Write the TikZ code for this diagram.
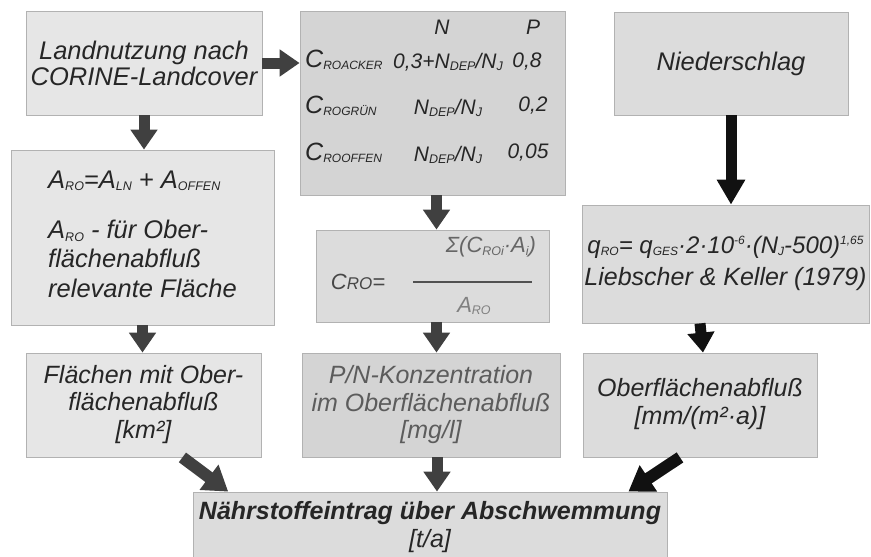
\documentclass[tikz,border=0pt]{standalone}
\usepackage{fontspec}
\setmainfont{Liberation Sans}
\usepackage{tikz}
\usetikzlibrary{arrows.meta, calc}
\definecolor{ink}{HTML}{262626}
\definecolor{boxline}{HTML}{B2B2B2}
\definecolor{lightfill}{HTML}{E6E6E6}
\definecolor{midfill}{HTML}{DCDCDC}
\definecolor{darkfill}{HTML}{D4D4D4}
\definecolor{arrowgray}{HTML}{404040}
\definecolor{arrowblack}{HTML}{111111}
\newcommand{\lo}[2][12.5]{\raisebox{-2.5pt}{\fontsize{#1}{#1}\selectfont #2}}
\newcommand{\hi}[1]{\raisebox{9pt}{\fontsize{12}{12}\selectfont #1}}
\tikzset{every node/.append style={font=\fontsize{25.5}{26}\selectfont\itshape, text=ink}}

\begin{document}
\begin{tikzpicture}[x=1pt, y=-1pt,
    box/.style={draw=boxline, line width=0.8pt, fill=#1, align=center, inner sep=0pt},
    box/.default=lightfill,
    arr/.style={line width=11pt, draw=#1, -{Triangle[length=20pt, width=26pt]}},
    arr/.default=arrowgray]
    \useasboundingbox (0,0) rectangle (871,557);

    % top row
    \node[box, minimum width=236pt, minimum height=104pt] (land) at (144,63)
        {Landnutzung nach\\CORINE-Landcover};
    \node[box=darkfill, minimum width=265pt, minimum height=184pt] (ctab) at (432.5,103) {};
    \node[box=midfill, minimum width=234pt, minimum height=103pt] (nied) at (731,63.5) {Niederschlag};

    % runoff coefficients
    \begin{scope}[every node/.append style={font=\fontsize{21}{22}\selectfont\itshape}]
        \node (hn) at (442,27) {N};
        \node (hp) at (533,27) {P};
        \node (nacker) at (448,62) {0,3+N\lo{DEP}/N\lo{J}};
        \node (packer) at (527,62) {0,8};
        \node (ngruen) at (448,108) {N\lo{DEP}/N\lo{J}};
        \node (pgruen) at (533,106) {0,2};
        \node (noffen) at (448,155) {N\lo{DEP}/N\lo{J}};
        \node (poffen) at (528,153) {0,05};
    \end{scope}
    \begin{scope}[every node/.append style={font=\fontsize{25}{26}\selectfont\itshape, anchor=west, inner sep=0pt}]
        \node (cacker) at (305,60) {C\lo[12]{ROACKER}};
        \node (cgruen) at (305,106) {C\lo[12]{ROGRÜN}};
        \node (coffen) at (305,153) {C\lo[12]{ROOFFEN}};
    \end{scope}

    % middle row
    \node[box, minimum width=263pt, minimum height=175pt] (aro) at (142.5,237.5)
        {\begin{tabular}{@{}l@{}}
         A\lo{RO}=A\lo{LN} + A\lo{OFFEN}\\[24pt]
         A\lo{RO} - für Ober-\\[3pt]
         flächenabfluß\\[3pt]
         relevante Fläche
         \end{tabular}};
    \node[box=midfill, minimum width=233pt, minimum height=92pt] (cro) at (432.5,276) {};
    \node[box=midfill, minimum width=287pt, minimum height=118pt] (qro) at (725.5,264)
        {\raisebox{4pt}{\begin{tabular}{@{}c@{}}
         {\fontsize{24}{25}\selectfont q\lo[12]{RO}= q\lo[12]{GES}·2·10\hi{-6}·(N\lo[12]{J}-500)\hi{1,65}}\\[6pt]
         {\fontsize{25}{26}\selectfont Liebscher \& Keller (1979)}
         \end{tabular}}};

    % concentration formula
    \node[font=\fontsize{22}{22}\selectfont\itshape, text=ink!85] (clhs) at (358,282)
        {C{\fontsize{17}{17}\selectfont RO}=};
    \node[font=\fontsize{22}{22}\selectfont\itshape, text=gray!80!black] (num) at (491,247)
        {Σ(C\lo{ROi}·A\lo{i})};
    \node[font=\fontsize{22}{22}\selectfont\itshape, text=gray] (den) at (474,306) {A\lo{RO}};
    \coordinate (barl) at (413,282);
    \coordinate (barr) at (532,282);
    \draw[line width=1.6pt, ink!80] (barl) -- (barr);

    % bottom rows
    \begin{scope}[every node/.append style={font=\fontsize{25}{27.5}\selectfont\itshape}]
        \node[box, minimum width=235pt, minimum height=104pt] (flaech) at (143.5,405)
            {\raisebox{-4pt}{\begin{tabular}{@{}c@{}}Flächen mit Ober-\\flächenabfluß\\{[km²]}\end{tabular}}};
        \node[box=darkfill, minimum width=258pt, minimum height=104pt, text=ink!75] (konz) at (431,405)
            {P/N-Konzentration\\im Oberflächenabfluß\\{[mg/l]}};
        \node[box=midfill, minimum width=234pt, minimum height=104pt] (abfl) at (700,405)
            {\raisebox{7pt}{\begin{tabular}{@{}c@{}}Oberflächenabfluß\\{[mm/(m²·a)]}\end{tabular}}};
        \node[box=midfill, minimum width=474pt, minimum height=70pt] (eintrag) at (430,527)
            {\bfseries Nährstoffeintrag über Abschwemmung\\{[t/a]}};
    \end{scope}

    % arrows
    \draw[arr] (land.east) -- (land.east -| ctab.west);
    \draw[arr] (land.south) -- (land.south |- aro.north);
    \draw[arr] ($(ctab.south)+(4,0)$) -- ($(ctab.south |- cro.north)+(4,0)$);
    \draw[arr=arrowblack, -{Triangle[length=25pt, width=27pt]}] (nied.south) -- (nied.south |- qro.north);
    \draw[arr] (aro.south) -- (aro.south |- flaech.north);
    \draw[arr] ($(cro.south)+(4,0)$) -- ($(cro.south |- konz.north)+(4,0)$);
    \draw[arr=arrowblack] (abfl.north |- qro.south) -- ($(abfl.north)+(3,0)$);
    \draw[arr, line width=12pt, -{Triangle[length=24pt, width=30pt]}]
        ($(flaech.south)!0.33!(flaech.south east)$) -- ($(eintrag.north west)!0.15!(eintrag.north)$);
    \draw[arr] ($(konz.south)+(6,0)$) -- ($(konz.south |- eintrag.north)+(6,0)$);
    \draw[arr=arrowblack, line width=12pt, -{Triangle[length=24pt, width=30pt]}]
        ($(abfl.south)+(-20,0)$) -- ($(eintrag.north east)+(-39,0)$);
\end{tikzpicture}
\end{document}
